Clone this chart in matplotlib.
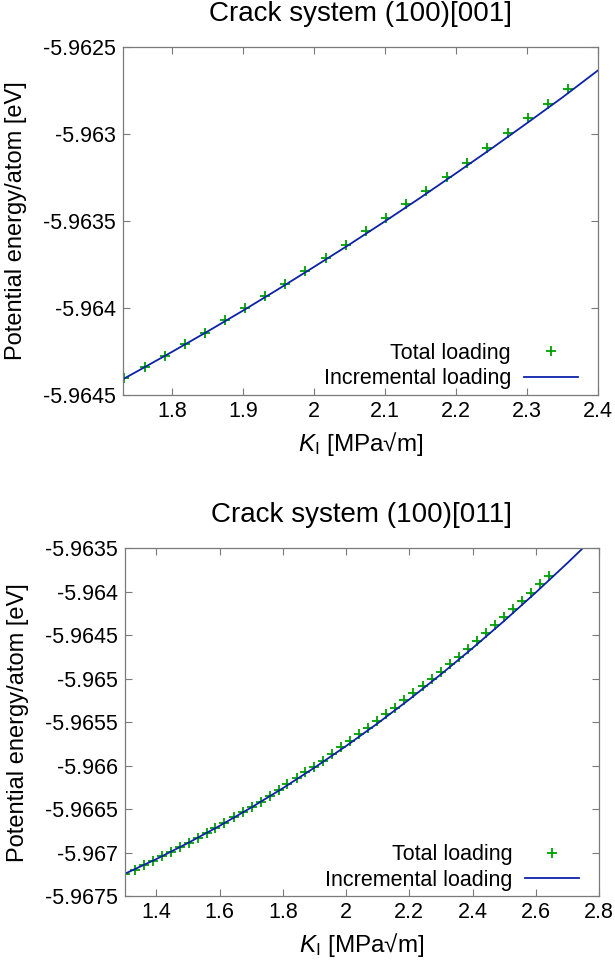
import matplotlib
matplotlib.use("Agg")
import matplotlib.pyplot as plt
from matplotlib.ticker import FormatStrFormatter, MultipleLocator

plt.rcParams['font.family'] = ['Liberation Sans', 'DejaVu Sans']
plt.rcParams['mathtext.fontset'] = 'custom'
plt.rcParams['mathtext.rm'] = 'Liberation Sans'
plt.rcParams['mathtext.it'] = 'Liberation Sans:italic'
plt.rcParams['axes.unicode_minus'] = False

# crack system (100)[001]
k_total_001 = [1.7329, 1.7622, 1.7901, 1.8189, 1.8468, 1.8751, 1.9030, 1.9313,
               1.9597, 1.9880, 2.0164, 2.0447, 2.0735, 2.1019, 2.1302, 2.1586,
               2.1869, 2.2157, 2.2446, 2.2729, 2.3013, 2.3296, 2.3578]
e_total_001 = [-5.964404, -5.964339, -5.964274, -5.964209, -5.964142, -5.964069,
               -5.964002, -5.963931, -5.963860, -5.963785, -5.963711, -5.963636,
               -5.963557, -5.963481, -5.963404, -5.963326, -5.963245, -5.963165,
               -5.963079, -5.962994, -5.962909, -5.962825, -5.962741]
k_incr_001 = [1.73, 1.75, 1.80, 1.85, 1.90, 1.95, 2.00, 2.05, 2.10, 2.15,
              2.20, 2.25, 2.30, 2.35, 2.40]
e_incr_001 = [-5.964411, -5.964366, -5.964252, -5.964135, -5.964015, -5.963891,
              -5.963764, -5.963635, -5.963502, -5.963366, -5.963226, -5.963084,
              -5.962938, -5.962790, -5.962635]

# crack system (100)[011]
k_total_011 = [1.3014, 1.3322, 1.3597, 1.3883, 1.4170, 1.4456, 1.4742, 1.5028,
               1.5315, 1.5590, 1.5866, 1.6152, 1.6438, 1.6724, 1.7011, 1.7297,
               1.7583, 1.7869, 1.8145, 1.8431, 1.8707, 1.8993, 1.9279, 1.9555,
               1.9841, 2.0127, 2.0413, 2.0700, 2.0986, 2.1272, 2.1558, 2.1845,
               2.2131, 2.2417, 2.2703, 2.2990, 2.3276, 2.3562, 2.3848, 2.4134,
               2.4421, 2.4707, 2.4993, 2.5279, 2.5555, 2.5841, 2.6128, 2.6414]
e_total_011 = [-5.967238, -5.967192, -5.967142, -5.967092, -5.967038, -5.966992,
               -5.966938, -5.966885, -5.966831, -5.966773, -5.966712, -5.966654,
               -5.966592, -5.966531, -5.966469, -5.966412, -5.966350, -5.966281,
               -5.966215, -5.966146, -5.966077, -5.966012, -5.965942, -5.965865,
               -5.965788, -5.965719, -5.965638, -5.965565, -5.965488, -5.965408,
               -5.965335, -5.965250, -5.965169, -5.965088, -5.965004, -5.964919,
               -5.964831, -5.964746, -5.964654, -5.964569, -5.964481, -5.964388,
               -5.964296, -5.964204, -5.964108, -5.964012, -5.963915, -5.963823]
k_incr_011 = [1.30, 1.40, 1.50, 1.60, 1.70, 1.80, 1.90, 2.00, 2.10, 2.20,
              2.30, 2.40, 2.50, 2.60, 2.70, 2.75]
e_incr_011 = [-5.967240, -5.967070, -5.966886, -5.966689, -5.966479, -5.966257,
              -5.966021, -5.965773, -5.965512, -5.965238, -5.964950, -5.964650,
              -5.964337, -5.964011, -5.963673, -5.963498]

titles = ["Crack system (100)[001]", "Crack system (100)[011]"]
xlims = [(1.731, 2.4), (1.3, 2.8)]
ylims = [(-5.9645, -5.9625), (-5.9675, -5.9635)]
xsteps = [0.1, 0.2]

green = '#00a000'
blue = '#0c22a8'
frame = '#7a7a7a'

fig = plt.figure(figsize=(6.15, 9.6), dpi=100)
ax1 = fig.add_axes([0.200, 0.5885, 0.772, 0.3625])
ax2 = fig.add_axes([0.203, 0.0662, 0.771, 0.3630])

data = [(k_total_001, e_total_001, k_incr_001, e_incr_001),
        (k_total_011, e_total_011, k_incr_011, e_incr_011)]

for i, ax in enumerate([ax1, ax2]):
    kt, et, ki, ei = data[i]
    ax.plot(kt, et, linestyle='none', marker='+', color=green,
            markersize=6.5, markeredgewidth=1.3, label='Total loading')
    ax.plot(ki, ei, color=blue, linewidth=1.3, label='Incremental loading')
    ax.set_xlim(*xlims[i])
    ax.set_ylim(*ylims[i])
    ax.xaxis.set_major_locator(MultipleLocator(xsteps[i]))
    ax.yaxis.set_major_locator(MultipleLocator(0.0005))
    ax.xaxis.set_major_formatter(FormatStrFormatter('%g'))
    ax.yaxis.set_major_formatter(FormatStrFormatter('%g'))
    ax.tick_params(direction='in', top=True, right=True, length=5, width=0.8,
                   color=frame, labelsize=15.5, pad=5)
    ax.tick_params(axis='x', pad=4)
    for s in ax.spines.values():
        s.set_color(frame)
        s.set_linewidth(0.9)
    ax.set_title(titles[i], fontsize=20, pad=19)
    ax.set_xlabel(r'$K_{\mathrm{I}}$ [MPa√m]', fontsize=17.5, labelpad=6)
    ax.set_ylabel('Potential energy/atom [eV]', fontsize=17)
    ax.yaxis.set_label_coords(-0.203, 0.5)
    ax.legend(loc='lower right', bbox_to_anchor=(0.958, 0.016), markerfirst=False,
              frameon=False, fontsize=15.5, handlelength=2.5, handletextpad=0.6,
              labelspacing=0.22, borderpad=0, borderaxespad=0)

fig.savefig('out.png', dpi=100)
